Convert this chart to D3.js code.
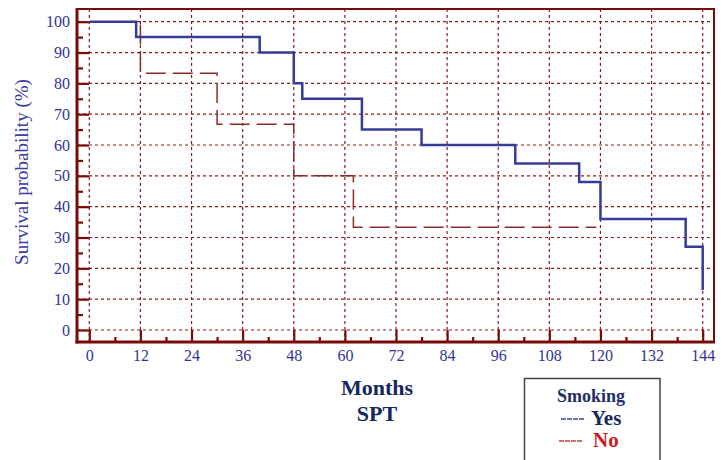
<!DOCTYPE html>
<html>
<head>
    <meta charset="utf-8" />
    <title>Survival by smoking</title>
    <script src="https://cdnjs.cloudflare.com/ajax/libs/d3/7.8.5/d3.min.js"></script>
    <style>
      body { margin: 0; background: #fff; }
      svg text { font-family: "Times New Roman", "Liberation Serif", "DejaVu Serif", serif !important; }
    </style>
</head>
<body>
  <svg id="chart" width="723" height="460"></svg>
  <script>
    // months where the curve steps, and survival (%) after the step
    const yesMonths = [0, 11, 40, 48, 50, 64, 78, 100, 115, 120, 140, 144]
    const yesSurvival = [100, 95, 90, 80, 75, 65, 60, 54, 48, 36, 27, 13]
    const noMonths = [0, 12, 30, 48, 62, 119]
    const noSurvival = [100, 83.3, 66.7, 50, 33.3, 33.3]

    const xTicks = [0, 12, 24, 36, 48, 60, 72, 84, 96, 108, 120, 132, 144]
    const yTicks = [0, 10, 20, 30, 40, 50, 60, 70, 80, 90, 100]
    const legendLabels = ['Yes', 'No']

    const svg = d3.select('#chart')
    const frame = { left: 77, right: 714, top: 9, bottom: 342 }

    const x = d3.scaleLinear().domain([0, 144]).range([89.3, 702.7])
    const y = d3.scaleLinear().domain([0, 100]).range([330, 21.7])

    const axisRed = '#7a0a0a'
    const gridRed = '#8e1c1c'
    const blue = '#373c9a'
    const labelBlue = '#2f3496'

    // grid
    svg.append('g').selectAll('line').data(yTicks).join('line')
      .attr('x1', frame.left).attr('x2', frame.right)
      .attr('y1', d => y(d)).attr('y2', d => y(d))
      .attr('stroke', gridRed).attr('stroke-width', 1.2).attr('stroke-dasharray', '3,3')
    svg.append('g').selectAll('line').data(xTicks).join('line')
      .attr('x1', d => x(d)).attr('x2', d => x(d))
      .attr('y1', frame.top).attr('y2', frame.bottom)
      .attr('stroke', gridRed).attr('stroke-width', 1.2).attr('stroke-dasharray', '3,3')

    // top and right border
    svg.append('path')
      .attr('d', `M${frame.left},${frame.top}H${frame.right}V${frame.bottom}`)
      .attr('fill', 'none').attr('stroke', axisRed).attr('stroke-width', 2)

    // axes
    const yAxis = d3.axisLeft(y).tickValues(yTicks).tickSize(-12).tickPadding(7)
    const yMinor = d3.axisLeft(y).tickValues(d3.range(5, 100, 10)).tickSize(-6).tickFormat('')
    const xAxis = d3.axisBottom(x).tickValues(xTicks).tickSize(-12).tickPadding(8)
    const xMinor = d3.axisBottom(x).tickValues(d3.range(6, 144, 12)).tickSize(-5).tickFormat('')

    function styleAxis(g) {
      g.attr('font-family', null)
      g.select('.domain').remove()
      g.selectAll('.tick line').attr('stroke', axisRed).attr('stroke-width', 2.2)
      g.selectAll('.tick text').attr('fill', labelBlue).style('font-size', '16px')
    }

    svg.append('g').attr('transform', `translate(${frame.left},0)`).call(yAxis).call(styleAxis)
    svg.append('g').attr('transform', `translate(${frame.left},0)`).call(yMinor).call(styleAxis)
    svg.append('g').attr('transform', `translate(0,${frame.bottom})`).call(xAxis).call(styleAxis)
    svg.append('g').attr('transform', `translate(0,${frame.bottom})`).call(xMinor).call(styleAxis)

    svg.append('line')
      .attr('x1', frame.left).attr('x2', frame.left).attr('y1', frame.top - 1).attr('y2', frame.bottom + 1.5)
      .attr('stroke', axisRed).attr('stroke-width', 3)
    svg.append('line')
      .attr('x1', frame.left - 1.5).attr('x2', frame.right + 1).attr('y1', frame.bottom).attr('y2', frame.bottom)
      .attr('stroke', axisRed).attr('stroke-width', 3)

    // survival curves
    const step = d3.line().x(d => x(d[0])).y(d => y(d[1])).curve(d3.curveStepAfter)

    svg.append('path')
      .attr('d', step(d3.zip(noMonths, noSurvival)))
      .attr('fill', 'none').attr('stroke', '#8e2a2a').attr('stroke-width', 1.5)
      .attr('stroke-dasharray', '20,7')

    svg.append('path')
      .attr('d', step(d3.zip(yesMonths, yesSurvival)))
      .attr('fill', 'none').attr('stroke', blue).attr('stroke-width', 2.5)

    // axis titles
    svg.append('text')
      .attr('transform', 'translate(28,172) rotate(-90)')
      .attr('text-anchor', 'middle')
      .attr('fill', '#3a3aa8')
      .style('font-size', '19px')
      .text('Survival probability (%)')

    svg.append('text')
      .attr('x', 377).attr('y', 395).attr('text-anchor', 'middle')
      .attr('fill', '#15275e').style('font-size', '22px').style('font-weight', 'bold')
      .text('Months')
    svg.append('text')
      .attr('x', 377).attr('y', 421).attr('text-anchor', 'middle')
      .attr('fill', '#15275e').style('font-size', '22px').style('font-weight', 'bold')
      .text('SPT')

    // legend
    const legend = svg.append('g')
    legend.append('rect')
      .attr('x', 524.5).attr('y', 378.5).attr('width', 135.5).attr('height', 100)
      .attr('fill', '#fff').attr('stroke', '#444').attr('stroke-width', 1.5)
    legend.append('text')
      .attr('x', 591).attr('y', 402).attr('text-anchor', 'middle')
      .attr('fill', '#1f2f6a').style('font-size', '18px').style('font-weight', 'bold')
      .text('Smoking')

    const legendDash = ['#3d4a9e', '#d03a3a']
    const legendText = ['#15275e', '#cc1b1b']
    legendLabels.forEach((lab, i) => {
      const ly = 419 + i * 22
      legend.append('line')
        .attr('x1', 561 - i * 2).attr('x2', 585 - i * 3).attr('y1', ly).attr('y2', ly)
        .attr('stroke', legendDash[i]).attr('stroke-width', 1.3).attr('stroke-dasharray', '5,1')
      legend.append('text')
        .attr('x', 591 + i * 2).attr('y', ly + 6)
        .attr('fill', legendText[i]).style('font-size', '21px').style('font-weight', 'bold')
        .text(lab)
    })
  </script>
</body>
</html>
